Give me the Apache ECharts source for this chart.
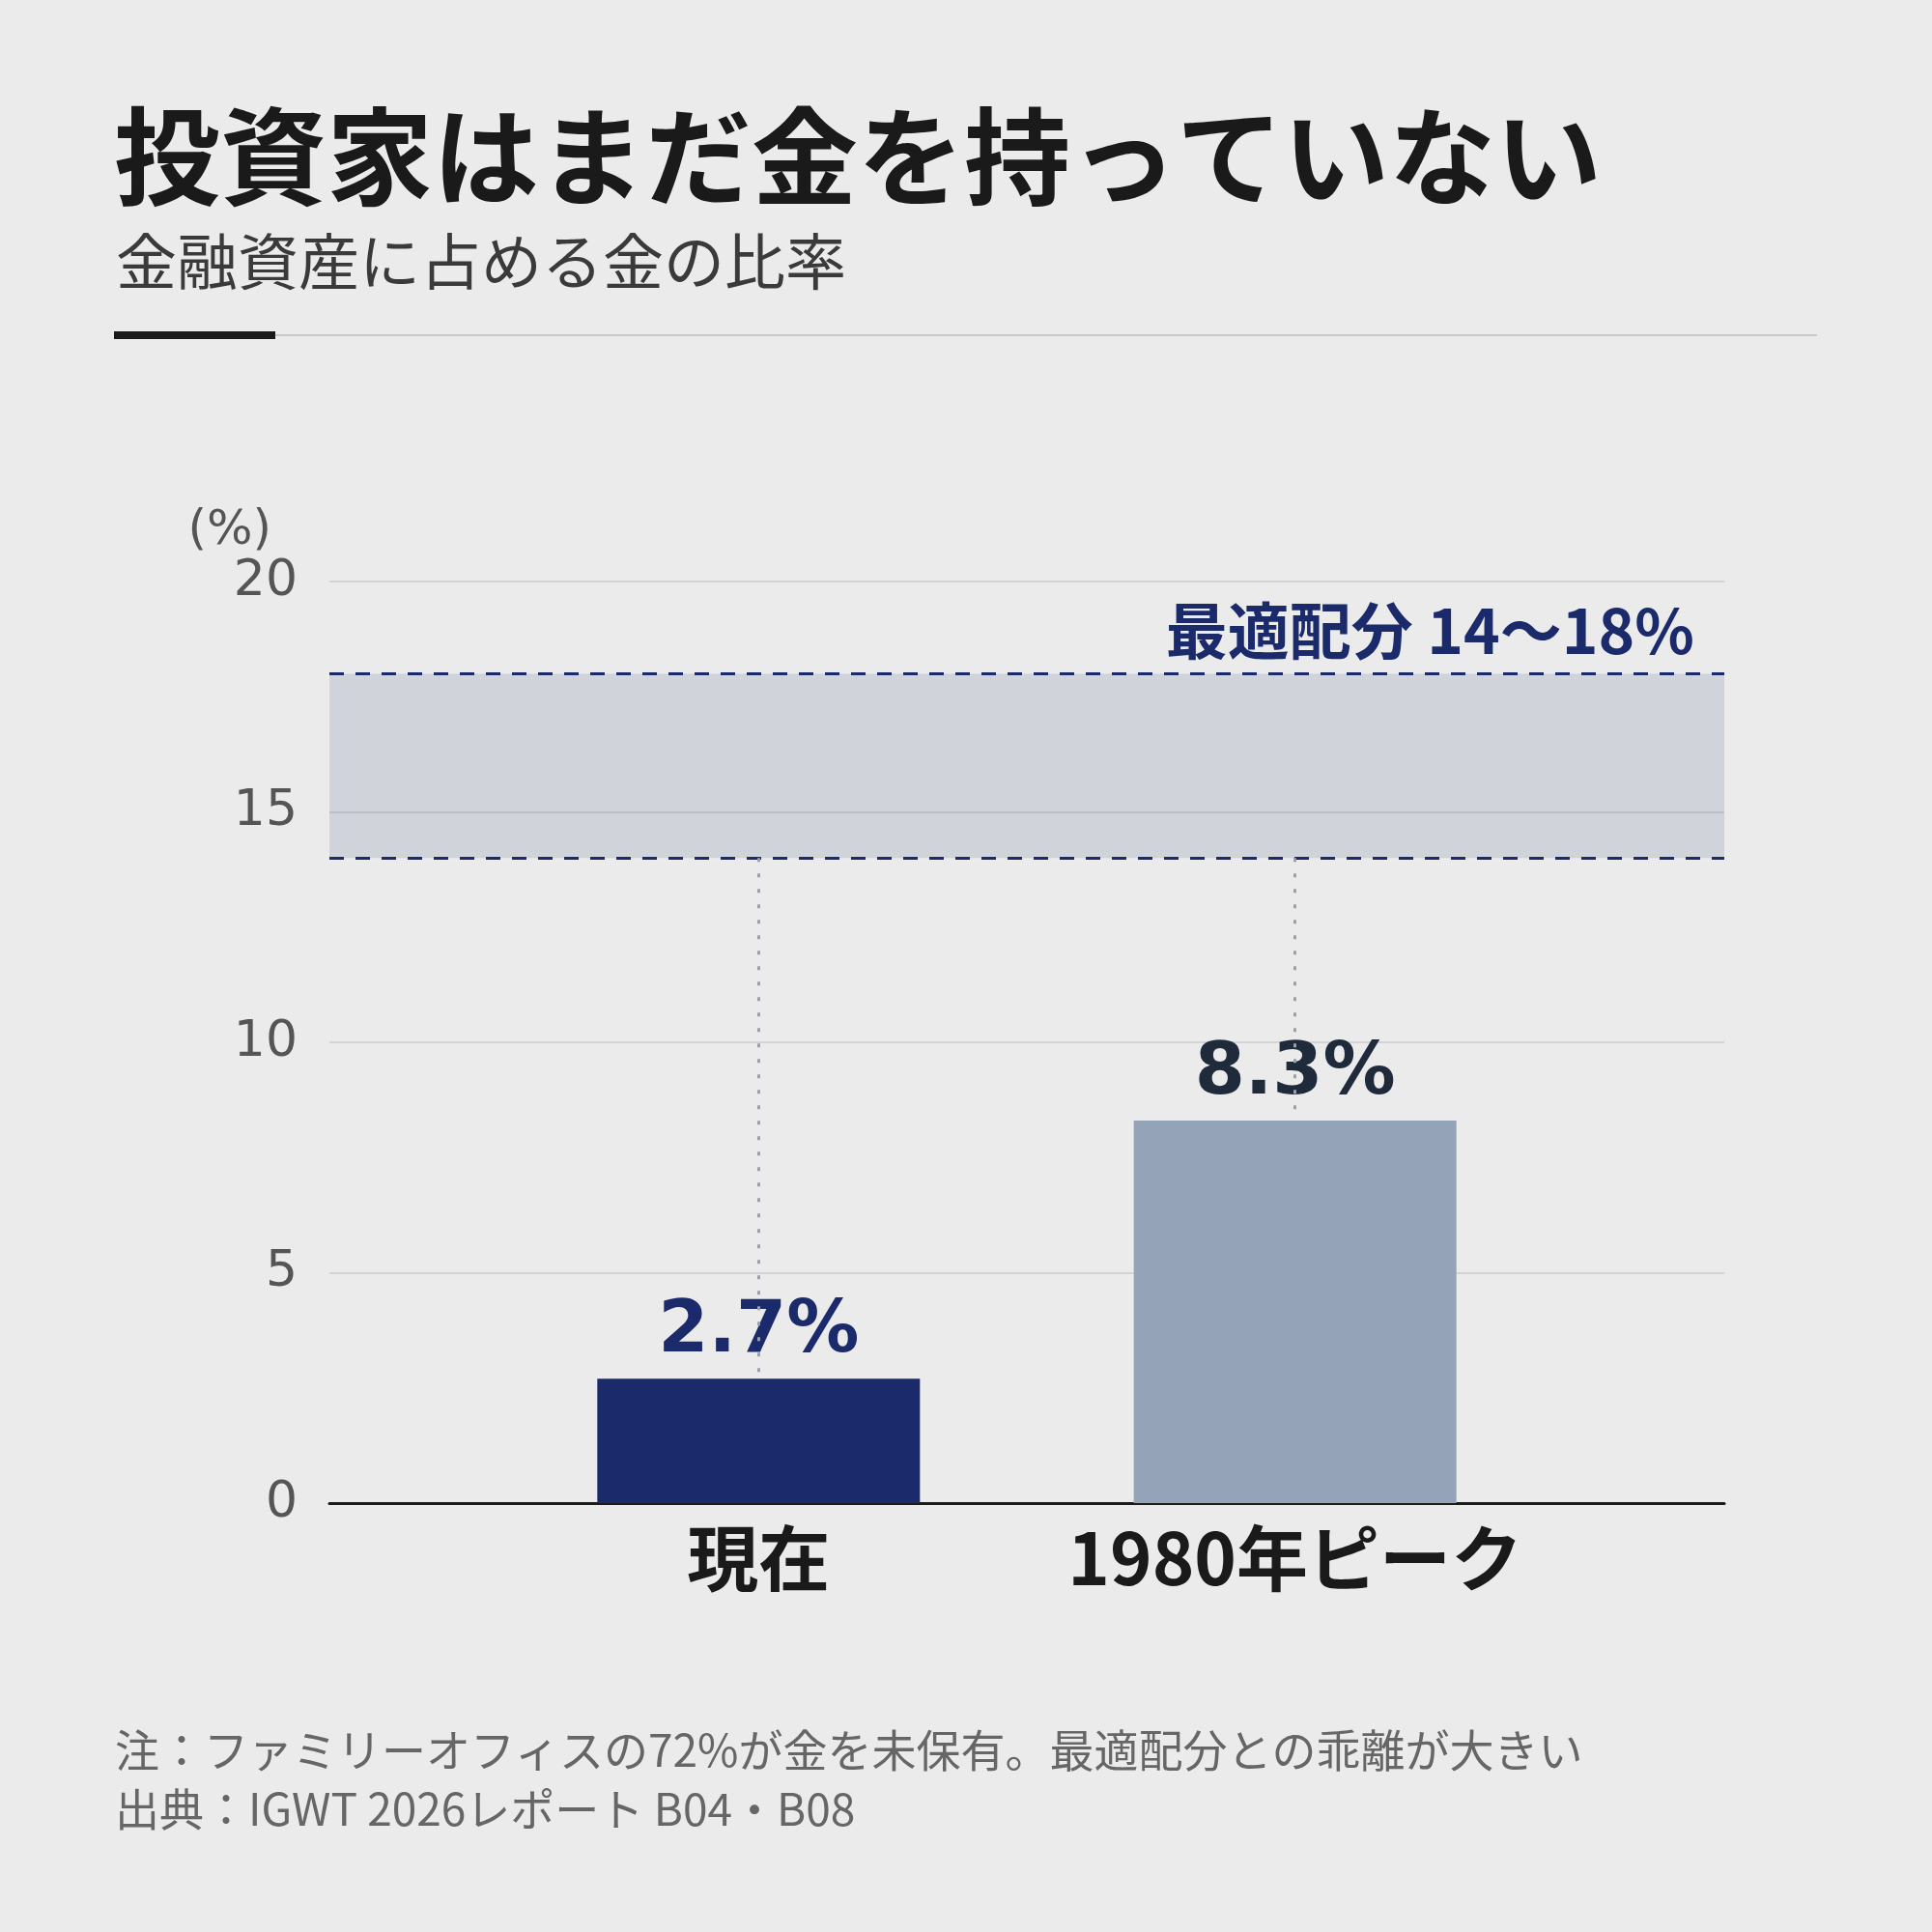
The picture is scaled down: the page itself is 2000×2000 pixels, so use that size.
<!DOCTYPE html>
<html>
<head>
<meta charset="utf-8">
<script src="https://cdn.jsdelivr.net/npm/echarts@6/dist/echarts.min.js"></script>
<style>
  html, body { margin: 0; padding: 0; background: #ebebeb; }
  #chart { width: 2000px; height: 2000px; }
</style>
</head>
<body>
<div id="chart"></div>
<script>
// Data
const categories = ['現在', '1980年ピーク'];
const categoryPos = [0, 1];
const shares = [2.7, 8.3];
const optimalRange = [14, 18];

const headline = '投資家はまだ金を持っていない';
const subtitle = '金融資産に占める金の比率';
const footnotes = [
  '注：ファミリーオフィスの72%が金を未保有。最適配分との乖離が大きい',
  '出典：IGWT 2026レポート B04・B08'
];

// Styles
const NAVY = '#1b2a6b';
const barColors = [NAVY, '#95a3b9'];
const labelColors = [NAVY, '#1f2a3a'];
const CJK = '"Noto Sans CJK JP", "Noto Sans", sans-serif';
const LATIN = '"DejaVu Sans", "Noto Sans CJK JP", sans-serif';

const barData = shares.map((v, i) => ({
  value: [categoryPos[i], v],
  itemStyle: { color: barColors[i] },
  label: { color: labelColors[i] }
}));

// vertical dotted guides from band bottom to each bar top
const guides = shares.map((v, i) => [
  { coord: [categoryPos[i], optimalRange[0]] },
  { coord: [categoryPos[i], v] }
]);

const option = {
  backgroundColor: '#ebebeb',
  animation: false,
  title: [
    {
      text: headline,
      left: 113, top: 102,
      textStyle: { fontFamily: CJK, fontSize: 110, fontWeight: 'bold', color: '#1a1a1a' }
    },
    {
      text: subtitle,
      left: 115, top: 234,
      textStyle: { fontFamily: CJK, fontSize: 63, fontWeight: 'normal', color: '#3a3a3a' }
    },
    {
      text: footnotes.join('\n'),
      left: 114, top: 1776,
      textStyle: { fontFamily: CJK, fontSize: 46, fontWeight: 'normal', color: '#666666', lineHeight: 61 }
    }
  ],
  graphic: [
    { type: 'line', shape: { x1: 118, y1: 347, x2: 1881, y2: 347 }, style: { stroke: '#c8c8c8', lineWidth: 2 } },
    { type: 'rect', shape: { x: 118, y: 343, width: 167, height: 8 }, style: { fill: '#1a1a1a' } }
  ],
  grid: { left: 341, right: 215, top: 602, bottom: 444 },
  xAxis: {
    type: 'value',
    min: -0.8,
    max: 1.8,
    splitLine: { show: false },
    axisTick: { show: false },
    axisLine: { show: true, lineStyle: { color: '#1a1a1a', width: 3 } },
    axisLabel: {
      customValues: categoryPos,
      formatter: v => categories[Math.round(v)],
      margin: 20,
      fontFamily: CJK,
      fontSize: 74,
      fontWeight: 'bold',
      color: '#1a1a1a'
    }
  },
  yAxis: {
    type: 'value',
    min: 0,
    max: 20,
    interval: 5,
    name: '(%)',
    nameLocation: 'end',
    nameGap: 52,
    nameTextStyle: {
      fontFamily: LATIN, fontSize: 50, color: '#555555',
      align: 'right', verticalAlign: 'middle', padding: [0, 60, 0, 0]
    },
    axisLine: { show: false, onZero: false },
    axisTick: { show: false },
    axisLabel: { fontFamily: LATIN, fontSize: 52, color: '#555555', margin: 33, padding: [14, 0, 0, 0] },
    splitLine: { lineStyle: { color: '#cccccc', width: 1.5 } }
  },
  series: [
    {
      type: 'bar',
      barWidth: 334,
      data: barData,
      label: {
        show: true,
        position: 'top',
        distance: 10,
        formatter: p => p.value[1] + '%',
        fontFamily: LATIN,
        fontSize: 75,
        fontWeight: 'bold'
      },
      markArea: {
        silent: true,
        itemStyle: { color: 'rgba(27,42,107,0.12)' },
        label: {
          show: true,
          position: 'insideTopRight',
          offset: [-26, -82],
          formatter: `最適配分 ${optimalRange[0]}〜${optimalRange[1]}%`,
          fontFamily: CJK,
          fontSize: 64,
          fontWeight: 'bold',
          color: NAVY
        },
        data: [[{ yAxis: optimalRange[0] }, { yAxis: optimalRange[1] }]]
      },
      markLine: {
        silent: true,
        symbol: 'none',
        label: { show: false },
        data: [
          { yAxis: optimalRange[0], lineStyle: { color: NAVY, width: 3, type: [15, 12] } },
          { yAxis: optimalRange[1], lineStyle: { color: NAVY, width: 3, type: [15, 12] } },
          ...guides.map(g => [
            Object.assign({}, g[0], { lineStyle: { color: '#98a1b4', width: 3, type: [4, 12] } }),
            g[1]
          ])
        ]
      }
    }
  ]
};

const chart = echarts.init(document.getElementById('chart'), null, { renderer: 'canvas' });
chart.setOption(option);
</script>
</body>
</html>
